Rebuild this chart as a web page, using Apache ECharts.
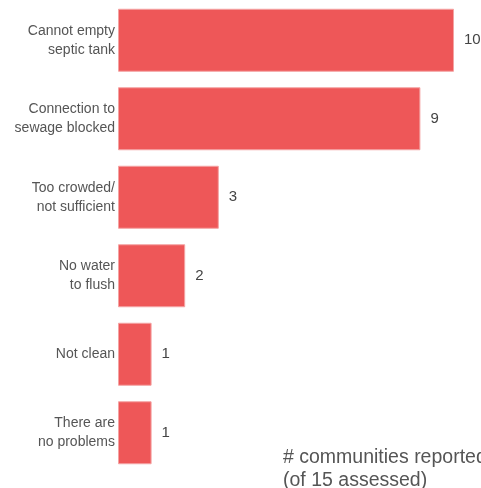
<!DOCTYPE html>
<html><head><meta charset="utf-8">
<script src="https://cdn.jsdelivr.net/npm/echarts@6/dist/echarts.min.js"></script>
<style>html,body{margin:0;padding:0;background:#fff}#c{width:481px;height:488px}</style>
</head><body><div id="c"></div>
<script>
const categories = ["Cannot empty\nseptic tank","Connection to\nsewage blocked","Too crowded/\nnot sufficient","No water\nto flush","Not clean","There are\nno problems"];
const values = [10, 9, 3, 2, 1, 1];
const axisTitle = "# communities reported\n(of 15 assessed)";

const chart = echarts.init(document.getElementById('c'), null, {renderer:'canvas'});
chart.setOption({
  animation:false,
  backgroundColor:'#fff',
  grid:{left:118, right:27, top:1, bottom:16, containLabel:false},
  xAxis:{type:'value', min:0, max:10, show:false},
  yAxis:{type:'category', data:categories, inverse:true,
    axisLine:{show:false}, axisTick:{show:false}, splitLine:{show:false},
    axisLabel:{margin:3, fontFamily:'Liberation Sans, Arial, sans-serif', fontSize:14, color:'#555', lineHeight:19, align:'right'}},
  series:[{type:'bar', data:values, barWidth:63,
    itemStyle:{color:'#EE5758', borderColor:'#F4A3A3', borderWidth:1},
    label:{show:true, position:'right', distance:10, fontFamily:'Liberation Sans, Arial, sans-serif', fontSize:15, color:'#444'}}],
  graphic:[{type:'text', left:283, top:446, style:{text:axisTitle, fontFamily:'Liberation Sans, Arial, sans-serif', fontSize:19.5, lineHeight:23, fill:'#555'}}]
});
</script></body></html>
